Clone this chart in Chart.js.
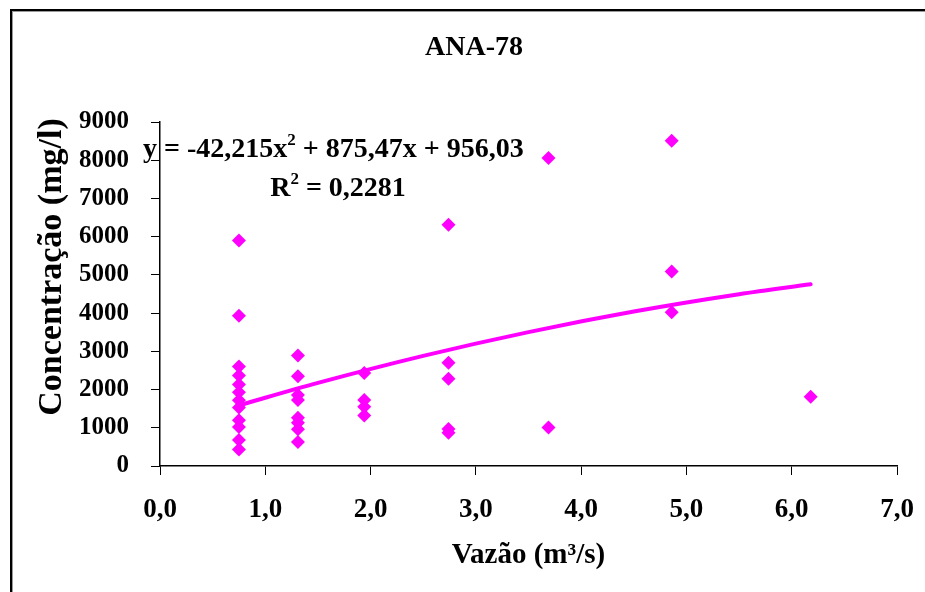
<!DOCTYPE html>
<html>
<head>
<meta charset="utf-8">
<script src="https://cdn.jsdelivr.net/npm/chart.js@4.4.1/dist/chart.umd.min.js"></script>
<style>
  html, body { margin: 0; padding: 0; background: #fff; }
  #wrap { position: relative; width: 925px; height: 592px; }
</style>
</head>
<body>
<div id="wrap"><canvas id="c" width="925" height="592"></canvas></div>
<script>
// ---- data ----
const chartTitle = 'ANA-78';
const xTitle = 'Vazão (m³/s)';
const yTitle = 'Concentração (mg/l)';
const equationText = ['y = -42,215x', '2', ' + 875,47x + 956,03'];
const r2Text = ['R', '2', ' = 0,2281'];

// observed samples: flow (m³/s) and concentration (mg/l)
const vazao = [
  0.75, 0.75, 0.75, 0.75, 0.75, 0.75, 0.75, 0.75, 0.75, 0.75, 0.75, 0.75,
  1.31, 1.31, 1.31, 1.31, 1.31, 1.31, 1.31, 1.31,
  1.94, 1.94, 1.94, 1.94,
  2.74, 2.74, 2.74, 2.74, 2.74,
  3.69, 3.69,
  4.86, 4.86, 4.86,
  6.18
];
const concentracao = [
  5900, 3930, 2600, 2370, 2130, 1930, 1720, 1530, 1200, 1020, 680, 430,
  2890, 2350, 1860, 1730, 1260, 1130, 960, 630,
  2430, 1730, 1550, 1320,
  6310, 2700, 2280, 970, 870,
  8060, 1010,
  8510, 5090, 4020,
  1810
];

// polynomial trend line
const trendX = [0.75, 1.5, 2.5, 3.5, 4.5, 5.5, 6.18];
const trendY = [1589, 2174, 2881, 3503, 4041, 4494, 4754];

const xTicks = [0, 1, 2, 3, 4, 5, 6, 7];
const yTicks = [0, 1000, 2000, 3000, 4000, 5000, 6000, 7000, 8000, 9000];

// ---- chart ----
const FONT = "'Liberation Serif', 'Times New Roman', serif";
const MAGENTA = '#FF00FF';

function drawRich(ctx, parts, x, y, size, align) {
  const supSize = Math.round(size * 0.62);
  const widths = parts.map((p, i) => {
    ctx.font = 'bold ' + (i === 1 ? supSize : size) + 'px ' + FONT;
    return ctx.measureText(p).width;
  });
  const total = widths.reduce((a, b) => a + b, 0);
  let cx = align === 'center' ? x - total / 2 : x;
  ctx.textAlign = 'left';
  ctx.textBaseline = 'alphabetic';
  parts.forEach((p, i) => {
    const sup = i === 1;
    ctx.font = 'bold ' + (sup ? supSize : size) + 'px ' + FONT;
    ctx.fillText(p, cx, sup ? y - size * 0.42 : y);
    cx += widths[i];
  });
}

const decor = {
  id: 'decor',
  afterDraw(chart) {
    const ctx = chart.ctx;
    const a = chart.chartArea;
    ctx.save();
    // outer frame (left + top edges visible)
    ctx.fillStyle = '#000';
    ctx.fillRect(10, 9, 915, 2);
    ctx.fillRect(10, 9, 2, 583);
    ctx.fillStyle = '#9a9a9a';
    ctx.fillRect(12, 11, 913, 1);
    ctx.fillRect(12, 11, 1, 581);

    ctx.fillStyle = '#000';
    // chart title
    ctx.font = 'bold 28px ' + FONT;
    ctx.textAlign = 'center';
    ctx.textBaseline = 'alphabetic';
    ctx.fillText(chartTitle, 474, 55);
    // x title
    ctx.font = 'bold 29px ' + FONT;
    ctx.fillText(xTitle, (a.left + a.right) / 2, 563);
    // y title
    ctx.save();
    ctx.translate(61, 267);
    ctx.rotate(-Math.PI / 2);
    ctx.font = 'bold 34px ' + FONT;
    ctx.textAlign = 'center';
    ctx.fillText(yTitle, 0, 0);
    ctx.restore();
    // equation + R²
    drawRich(ctx, equationText, a.left - 17, 157, 28, 'left');
    drawRich(ctx, r2Text, 338, 196, 28, 'center');
    ctx.restore();
  }
};

const fmtX = v => v.toFixed(1).replace('.', ',');

new Chart(document.getElementById('c'), {
  type: 'scatter',
  data: {
    datasets: [
      {
        type: 'line',
        label: 'Tendência',
        data: trendX.map((x, i) => ({ x, y: trendY[i] })),
        borderColor: MAGENTA,
        borderWidth: 4,
        borderCapStyle: 'round',
        pointRadius: 0,
        fill: false,
        cubicInterpolationMode: 'monotone',
        clip: false
      },
      {
        label: 'ANA-78',
        data: vazao.map((x, i) => ({ x, y: concentracao[i] })),
        pointStyle: 'rectRot',
        pointRadius: 7,
        pointHoverRadius: 7,
        backgroundColor: MAGENTA,
        borderColor: MAGENTA,
        borderWidth: 0,
        clip: false
      }
    ]
  },
  options: {
    responsive: false,
    animation: false,
    devicePixelRatio: 1,
    layout: { padding: { top: 122, right: 28, left: 0, bottom: 0 } },
    plugins: { legend: { display: false }, title: { display: false }, tooltip: { enabled: false } },
    scales: {
      x: {
        type: 'linear',
        min: xTicks[0],
        max: xTicks[xTicks.length - 1],
        afterFit(s) { s.height = 126; s.paddingLeft = 0; s.paddingRight = 0; },
        afterBuildTicks(s) { s.ticks = xTicks.map(v => ({ value: v })); },
        border: { color: '#000', width: 1.5 },
        grid: { drawOnChartArea: false, drawTicks: true, tickLength: 9, color: '#000', lineWidth: 1 },
        ticks: { color: '#000', font: { family: FONT, size: 27, weight: 'bold' }, padding: 19, callback: fmtX, maxRotation: 0 }
      },
      y: {
        type: 'linear',
        min: yTicks[0],
        max: yTicks[yTicks.length - 1],
        afterFit(s) { s.width = 160; s.paddingTop = 0; s.paddingBottom = 0; },
        afterBuildTicks(s) { s.ticks = yTicks.map(v => ({ value: v })); },
        border: { color: '#000', width: 1.5 },
        grid: { drawOnChartArea: false, drawTicks: true, tickLength: 9, color: '#000', lineWidth: 1 },
        ticks: { color: '#000', font: { family: FONT, size: 25, weight: 'bold' }, padding: 22, callback: v => String(v) }
      }
    }
  },
  plugins: [decor]
});
</script>
</body>
</html>
